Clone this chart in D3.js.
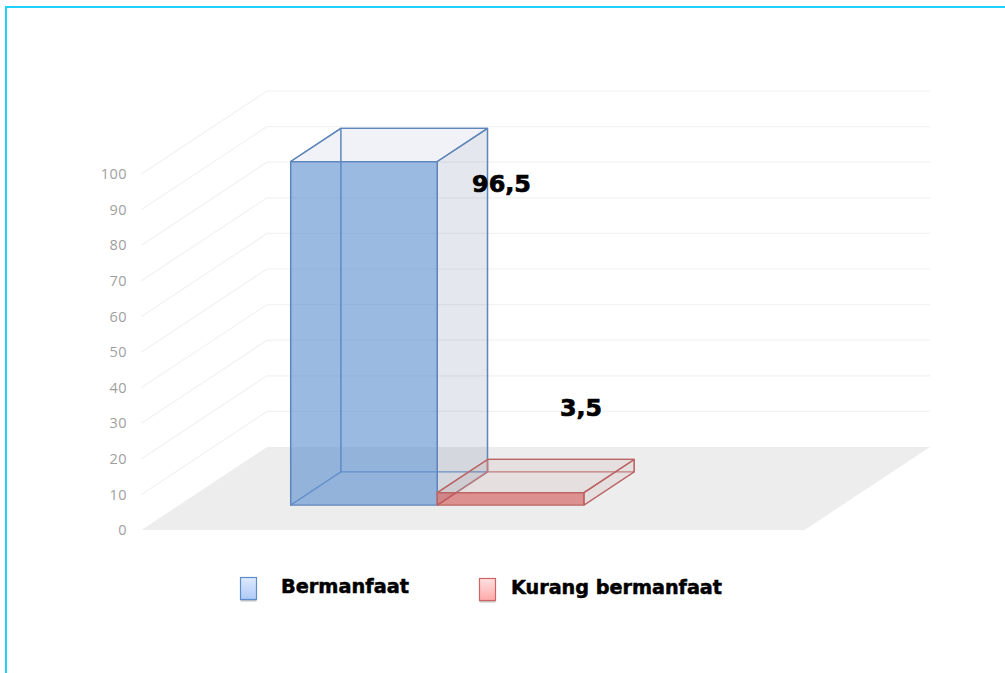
<!DOCTYPE html>
<html>
<head>
<meta charset="utf-8">
<script src="https://cdn.jsdelivr.net/npm/d3@7"></script>
<style>
  html, body { margin: 0; padding: 0; background: #fff; overflow: hidden; }
  svg { display: block; }
  .heavy { font-family: "DejaVu Sans", sans-serif; font-weight: 700; fill: #000; stroke: #000; stroke-width: 0.7px; }
  .tick text { font-family: "Open Sans", sans-serif; font-size: 14.5px; fill: #9f9f9f; letter-spacing: 0.5px; }
</style>
</head>
<body>
<svg id="chart" width="1005" height="673"></svg>
<script>
// Series and axis content
const seriesNames = ["Bermanfaat", "Kurang bermanfaat"];
const seriesValues = [96.5, 3.5];
const valueLabels = ["96,5", "3,5"];
const tickValues = [0, 10, 20, 30, 40, 50, 60, 70, 80, 90, 100];
// The chart's layout reserves a third, empty slot to the right of the two bars
const slots = [...seriesNames, "empty"];

const svg = d3.select("#chart");

// Oblique projection: x across, v up, z into the page (0 = front, 1 = back)
const x = d3.scaleBand().domain(slots).range([141.5, 804.5]).paddingInner(0).paddingOuter(0.76);
const y = d3.scaleLinear().domain([0, 100]).range([530, 174]);
const depthX = 125.5, depthY = 83;
const project = (px, v, z) => [px + z * depthX, y(v) - z * depthY];
const barNear = 0.3, barFar = 0.7;
const path = pts => "M" + pts.map(p => p.join(",")).join("L") + "Z";

// Frame lines along the top and left edges
svg.append("path").attr("d", "M6,673V7H1005")
  .attr("fill", "none").attr("stroke", "#1dd3fd").attr("stroke-width", 2);

// Floor
svg.append("path")
  .attr("d", path([project(141.5, 0, 0), project(804.5, 0, 0), project(804.5, 0, 1), project(141.5, 0, 1)]))
  .attr("fill", "#ededed");

// Gridlines on the side and back walls
svg.append("g").selectAll("path")
  .data(tickValues.slice(1))
  .join("path")
  .attr("d", v => "M" + [project(141.5, v, 0), project(141.5, v, 1), project(804.5, v, 1)].map(p => p.join(",")).join("L"))
  .attr("fill", "none")
  .attr("stroke", "#f2f2f2")
  .attr("stroke-width", 1.2);

// Value axis
svg.append("g")
  .attr("transform", "translate(131,0)")
  .call(d3.axisLeft(y).tickValues(tickValues).tickSize(0).tickPadding(4).tickFormat(d3.format("d")))
  .call(g => g.select(".domain").remove());

// Translucent boxes, one per series
const themes = [
  { stroke: "#5f86ba", inner: "#6f97c9", front: "rgba(88,140,206,0.6)", top: "rgba(90,115,165,0.09)", side: "rgba(75,100,140,0.15)" },
  { stroke: "#bb6464", inner: "#c48080", front: "rgba(205,60,60,0.52)", top: "rgba(165,90,90,0.09)", side: "rgba(165,90,90,0.09)" }
];

const boxes = svg.append("g").selectAll("g")
  .data(seriesNames.map((name, i) => ({ name, value: seriesValues[i], theme: themes[i] })))
  .join("g");

boxes.each(function (d) {
  const g = d3.select(this);
  const x0 = x(d.name), x1 = x0 + x.bandwidth();
  const c = (px, v, z) => project(px, v, z);
  const n = barNear, f = barFar, v = d.value, t = d.theme;
  const face = (pts, fill, stroke) => g.append("path").attr("d", path(pts))
    .attr("fill", fill).attr("stroke", stroke).attr("stroke-width", 1.3)
    .attr("stroke-linejoin", "round");
  face([c(x0, 0, f), c(x1, 0, f), c(x1, v, f), c(x0, v, f)], "none", t.inner);
  face([c(x0, 0, n), c(x0, 0, f), c(x0, v, f), c(x0, v, n)], "none", t.inner);
  face([c(x0, v, n), c(x1, v, n), c(x1, v, f), c(x0, v, f)], t.top, t.stroke);
  face([c(x1, 0, n), c(x1, 0, f), c(x1, v, f), c(x1, v, n)], t.side, t.stroke);
  face([c(x0, 0, n), c(x1, 0, n), c(x1, v, n), c(x0, v, n)], t.front, t.stroke);
});

// Value labels placed beside each box
const labelAnchors = [[472, 192], [560, 416]];
const labelWidths = [59, 42];
svg.append("g").selectAll("text")
  .data(valueLabels)
  .join("text")
  .attr("class", "heavy")
  .attr("x", (d, i) => labelAnchors[i][0])
  .attr("y", (d, i) => labelAnchors[i][1])
  .attr("font-size", 23)
  .attr("textLength", (d, i) => labelWidths[i])
  .attr("lengthAdjust", "spacingAndGlyphs")
  .text(d => d);

// Legend
const defs = svg.append("defs");
const swatchColors = [["#dfeafe", "#aecaf6", "#5f8ccb"], ["#ffe0e0", "#ffaaaa", "#cf6464"]];
swatchColors.forEach((s, i) => {
  const grad = defs.append("linearGradient").attr("id", "swatch" + i)
    .attr("x1", 0).attr("y1", 0).attr("x2", 0).attr("y2", 1);
  grad.append("stop").attr("offset", 0).attr("stop-color", s[0]);
  grad.append("stop").attr("offset", 1).attr("stop-color", s[1]);
});
const legendItems = [
  { swatchX: 240.5, swatchY: 577.5, textX: 281, textY: 593, width: 128 },
  { swatchX: 479.5, swatchY: 578.5, textX: 511, textY: 594, width: 211 }
];
const legend = svg.append("g").selectAll("g")
  .data(seriesNames)
  .join("g");
legend.append("rect")
  .attr("x", (d, i) => legendItems[i].swatchX)
  .attr("y", (d, i) => legendItems[i].swatchY + 2)
  .attr("width", 16).attr("height", 22)
  .attr("fill", "#c4c4c4");
legend.append("rect")
  .attr("x", (d, i) => legendItems[i].swatchX)
  .attr("y", (d, i) => legendItems[i].swatchY)
  .attr("width", 16).attr("height", 22)
  .attr("fill", (d, i) => `url(#swatch${i})`)
  .attr("stroke", (d, i) => swatchColors[i][2])
  .attr("stroke-width", 1.2);
legend.append("text")
  .attr("class", "heavy")
  .attr("x", (d, i) => legendItems[i].textX)
  .attr("y", (d, i) => legendItems[i].textY)
  .attr("font-size", 19)
  .style("stroke-width", "0.5px")
  .attr("textLength", (d, i) => legendItems[i].width)
  .attr("lengthAdjust", "spacingAndGlyphs")
  .text(d => d);
</script>
</body>
</html>
